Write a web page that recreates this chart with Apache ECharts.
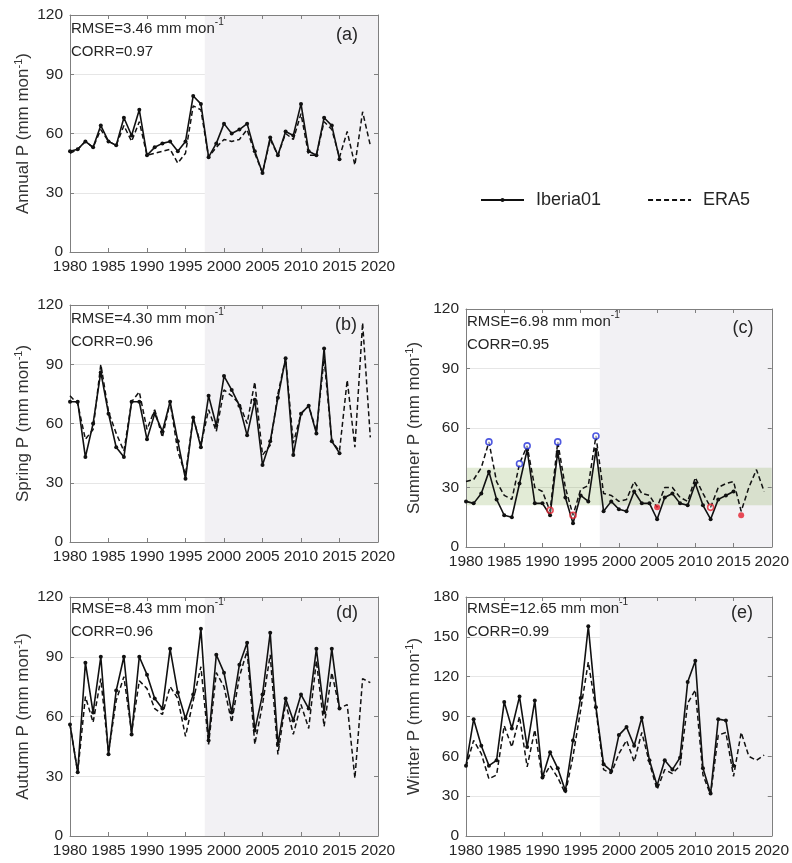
<!DOCTYPE html>
<html><head><meta charset="utf-8">
<script src="https://cdn.jsdelivr.net/npm/echarts@6/dist/echarts.min.js"></script>
<style>html,body{margin:0;padding:0;background:#fff}#chart{width:792px;height:863px}</style>
</head><body><div id="chart"></div>
<script>
// ---------------- data ----------------
const years = [1980,1981,1982,1983,1984,1985,1986,1987,1988,1989,
               1990,1991,1992,1993,1994,1995,1996,1997,1998,1999,
               2000,2001,2002,2003,2004,2005,2006,2007,2008,2009,
               2010,2011,2012,2013,2014,2015,2016,2017,2018,2019];

// Iberia01: 1980-2015, ERA5: 1980-2019  (mm mon-1)
const iberiaAnnual = [51,52,56,53,64,56,54,68,59,72,49,53,55,56,51,56,79,75,48,55,65,60,62,65,51,40,58,49,61,59,75,51,49,68,64,47];
const era5Annual   = [50,52,56,53,62,56,54,64,56,66,49,50,51,52,45,50,74,72,48,53,57,56,57,62,50,40,57,49,60,57,70,49,49,66,62,48,61,44,71,54];

const iberiaSpring = [71,71,43,60,86,65,48,43,71,71,52,65,56,71,51,32,63,48,74,59,84,77,69,54,72,39,51,73,93,44,65,69,55,98,51,45];
const era5Spring   = [74,70,52,57,90,66,55,46,71,76,57,67,53,71,46,34,63,49,67,56,77,74,70,60,81,44,49,75,93,50,65,69,56,93,51,46,82,48,111,53];

const iberiaSummer = [23,22,27,38,24,16,15,32,49,22,22,16,48,25,12,26,23,49,18,23,19,18,28,22,22,14,25,27,22,21,32,21,14,24,26,28];
const era5Summer   = [33,34,40,53,33,26,24,42,51,30,28,18,53,30,16,29,31,56,27,26,23,24,33,27,26,20,30,30,25,23,35,27,20,30,32,33,18,30,39,28];

const iberiaAutumn = [56,32,87,62,90,41,73,90,51,90,81,69,64,94,72,59,71,104,48,91,82,62,86,97,53,71,102,46,69,58,71,64,94,62,94,64];
const era5Autumn   = [56,32,70,57,79,42,68,80,52,78,74,64,61,75,69,50,68,85,46,82,75,57,80,93,46,66,91,41,67,51,66,54,88,55,82,64,66,29,79,77];

const iberiaWinter = [53,88,68,53,57,101,81,105,67,102,44,63,51,34,72,104,158,97,54,49,76,82,68,89,57,38,57,50,59,116,132,51,32,88,87,53];
const era5Winter   = [52,72,62,43,46,83,67,90,52,80,43,53,44,32,60,95,131,95,50,47,62,72,56,78,55,35,50,47,53,100,110,46,31,76,78,45,78,60,57,61];

// summer extremes (ERA5)
const wetYears  = [1983,1987,1988,1992,1997];
const wetValues = [53,42,51,53,56];
const dryOpenYears  = [1991,1994,2012];
const dryOpenValues = [18.5,16,20];
const dryFilledYears  = [2005,2016];
const dryFilledValues = [20,16];
const summerBand = [21,40];

const statsRMSE = ['3.46','4.30','6.98','8.43','12.65'];
const statsCORR = ['0.97','0.96','0.95','0.96','0.99'];
const seasonNames = ['Annual','Spring','Summer','Autumn','Winter'];
const panelTags = ['(a)','(b)','(c)','(d)','(e)'];
const validationStart = 1997.5;

// ---------------- layout / style ----------------
const FONT = "'Liberation Sans', Arial, Helvetica, sans-serif";
const TXT = '#262626';
const FRAME = '#7f7f7f';
const layout = [
  {left:70,  top:15,  width:308, height:237, ymax:120, nameGap:36, statY:17.5,  tagX:347, tagY:35},
  {left:70,  top:305, width:308, height:237, ymax:120, nameGap:36, statY:307.5, tagX:346, tagY:325},
  {left:466, top:309, width:308, height:238, ymax:120, nameGap:42, statY:310.5, tagX:743, tagY:328.5},
  {left:70,  top:597, width:308, height:239, ymax:120, nameGap:36, statY:597.5, tagX:347, tagY:613.5},
  {left:466, top:597, width:308, height:239, ymax:180, nameGap:42, statY:597.5, tagX:742, tagY:613.5}
];
const iberiaSets = [iberiaAnnual, iberiaSpring, iberiaSummer, iberiaAutumn, iberiaWinter];
const era5Sets = [era5Annual, era5Spring, era5Summer, era5Autumn, era5Winter];

const pairs = (xs, vs) => vs.map((v, k) => [xs[k], v]);

const option = {
  animation: false,
  backgroundColor: '#fff',
  grid: [], xAxis: [], yAxis: [], series: [], graphic: [],
  legend: {
    data: ['Iberia01', {name: 'ERA5', itemStyle: {opacity: 0}}],
    left: 480, top: 191, padding: 0,
    itemWidth: 43, itemHeight: 5, itemGap: 46,
    selectedMode: false,
    textStyle: {fontSize: 18, color: TXT, fontFamily: FONT, padding: [0, 0, 0, 7]}
  }
};

layout.forEach((L, i) => {
  option.grid.push({left: L.left, top: L.top, width: L.width, height: L.height});
  const axisLine = {show: true, onZero: false, lineStyle: {color: FRAME, width: 1}};
  const axisTick = {show: true, inside: true, length: 4, lineStyle: {color: FRAME}};
  const lab = {color: TXT, fontSize: 15.5, fontFamily: FONT};
  option.xAxis.push({type: 'value', gridIndex: i, min: 1980, max: 2020, interval: 5, position: 'bottom', z: 1,
    axisLine, axisTick, splitLine: {show: false},
    axisLabel: Object.assign({margin: 7, formatter: v => String(v), showMinLabel: true, showMaxLabel: true}, lab)});
  option.xAxis.push({type: 'value', gridIndex: i, min: 1980, max: 2020, interval: 5, position: 'top', z: 1,
    axisLine, axisTick, splitLine: {show: false}, axisLabel: {show: false}});
  option.yAxis.push({type: 'value', gridIndex: i, min: 0, max: L.ymax, interval: 30, position: 'left', z: 1,
    axisLine, axisTick, splitLine: {show: true, lineStyle: {color: '#e6e6e6', width: 1}},
    axisLabel: Object.assign({margin: 7}, lab),
    name: seasonNames[i] + ' P (mm mon{sup|-1})', nameLocation: 'middle', nameRotate: 90, nameGap: L.nameGap,
    nameTextStyle: {fontSize: 17, color: '#333', fontFamily: FONT, lineHeight: 20,
      rich: {sup: {fontSize: 11, lineHeight: 11, verticalAlign: 'top', color: '#333', fontFamily: FONT}}}});
  option.yAxis.push({type: 'value', gridIndex: i, min: 0, max: L.ymax, interval: 30, position: 'right', z: 1,
    axisLine, axisTick, splitLine: {show: false}, axisLabel: {show: false}});

  const areas = [[{xAxis: validationStart, itemStyle: {color: '#f2f1f4'}}, {xAxis: 2020}]];
  if (i === 2) areas.push([{yAxis: summerBand[0], itemStyle: {color: 'rgba(125,165,70,0.22)'}}, {yAxis: summerBand[1]}]);
  option.series.push({type: 'line', xAxisIndex: 2 * i, yAxisIndex: 2 * i, data: [], z: 0, silent: true,
    markArea: {silent: true, data: areas}});

  option.series.push({name: 'ERA5', type: 'line', xAxisIndex: 2 * i, yAxisIndex: 2 * i, z: 2,
    data: pairs(years, era5Sets[i]), symbol: 'none',
    lineStyle: {color: '#111', width: 1.5, type: [5, 3]}, itemStyle: {color: '#111'}});
  option.series.push({name: 'Iberia01', type: 'line', xAxisIndex: 2 * i, yAxisIndex: 2 * i, z: 3,
    data: pairs(years, iberiaSets[i]), symbol: 'circle', symbolSize: 4,
    lineStyle: {color: '#111', width: 1.6}, itemStyle: {color: '#111'}});

  if (i === 2) {
    option.series.push({type: 'scatter', xAxisIndex: 4, yAxisIndex: 4, z: 4, symbol: 'circle', symbolSize: 6,
      data: pairs(wetYears, wetValues), itemStyle: {color: 'rgba(255,255,255,0.7)', borderColor: '#2330d8', borderWidth: 1.6}});
    option.series.push({type: 'scatter', xAxisIndex: 4, yAxisIndex: 4, z: 4, symbol: 'circle', symbolSize: 6,
      data: pairs(dryOpenYears, dryOpenValues), itemStyle: {color: 'rgba(255,255,255,0.3)', borderColor: '#e3202e', borderWidth: 1.6}});
    option.series.push({type: 'scatter', xAxisIndex: 4, yAxisIndex: 4, z: 4, symbol: 'circle', symbolSize: 6,
      data: pairs(dryFilledYears, dryFilledValues), itemStyle: {color: '#e3202e'}});
  }

  option.graphic.push({type: 'text', x: L.left + 1, y: L.statY, z: 10, silent: true,
    style: {text: 'RMSE=' + statsRMSE[i] + ' mm mon{sup|-1}\nCORR=' + statsCORR[i],
      fontSize: 15, fontFamily: FONT, fill: TXT, lineHeight: 23, align: 'left', verticalAlign: 'top',
      rich: {sup: {fontSize: 10, fontFamily: FONT, fill: TXT, lineHeight: 14, verticalAlign: 'top'}}}});
  option.graphic.push({type: 'text', x: L.tagX, y: L.tagY, z: 10, silent: true,
    style: {text: panelTags[i], fontSize: 18, fontFamily: FONT, fill: TXT, align: 'center', verticalAlign: 'middle'}});
});

const chart = echarts.init(document.getElementById('chart'), null, {renderer: 'canvas'});
chart.setOption(option);
</script>
</body></html>
